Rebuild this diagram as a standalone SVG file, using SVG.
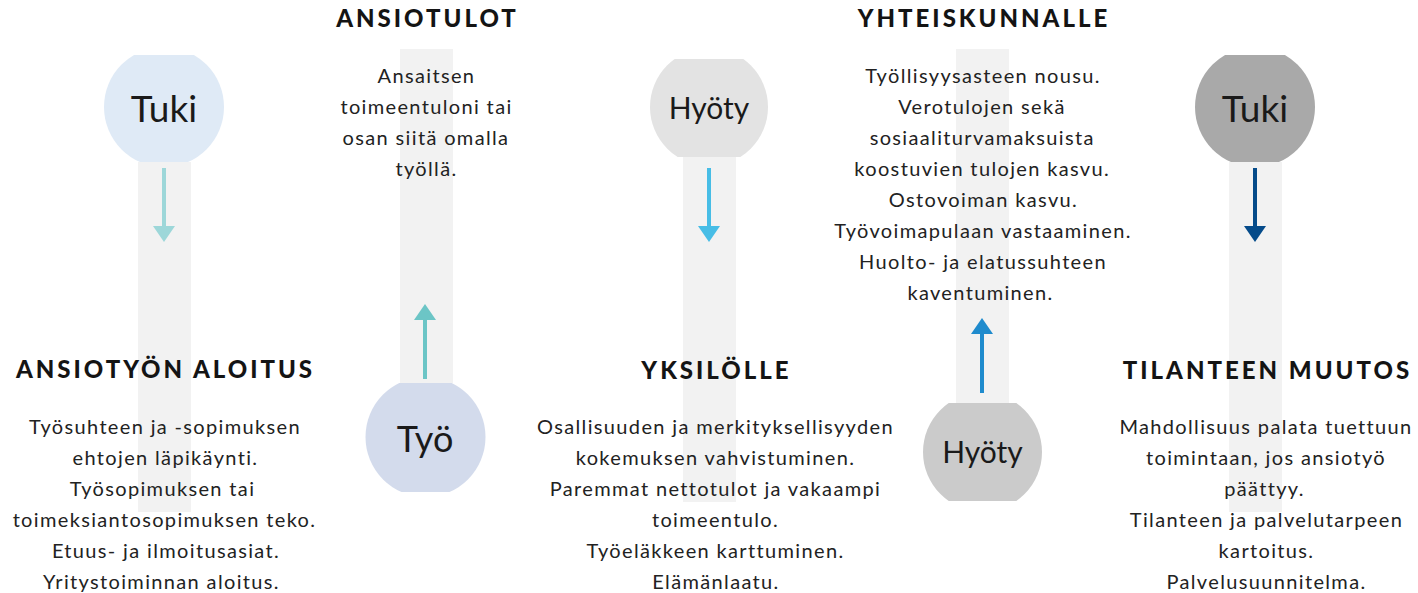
<svg xmlns="http://www.w3.org/2000/svg" width="1418" height="593" viewBox="0 0 1418 593">
<style>
.bar{fill:#f2f2f2}
text{font-variant-ligatures:none}
.lbl{font-family:Lato,"Liberation Sans",sans-serif;fill:#1a1a1a;text-anchor:middle}
.h{font-family:Lato,"Liberation Sans",sans-serif;font-weight:900;font-size:24px;letter-spacing:3px;fill:#141414;text-anchor:middle}
.b{font-family:Lato,"Liberation Sans",sans-serif;font-size:20px;letter-spacing:1.35px;fill:#222;text-anchor:middle}
.arr{stroke-width:4;fill:none}
</style>
<defs>
<clipPath id="c1"><rect x="100" y="55" width="130" height="107"/></clipPath>
<clipPath id="c2"><rect x="360" y="383" width="130" height="109"/></clipPath>
<clipPath id="c3"><rect x="645" y="59" width="130" height="98"/></clipPath>
<clipPath id="c4"><rect x="918" y="403" width="130" height="98"/></clipPath>
<clipPath id="c5"><rect x="1190" y="55" width="130" height="107"/></clipPath>
<marker id="m1" viewBox="0 0 16 22" markerWidth="16" markerHeight="22" refX="0" refY="11" orient="auto" markerUnits="userSpaceOnUse"><path d="M0,0L16,11L0,22z" fill="#9dd7d9"/></marker>
<marker id="m2" viewBox="0 0 16 22" markerWidth="16" markerHeight="22" refX="0" refY="11" orient="auto" markerUnits="userSpaceOnUse"><path d="M0,0L16,11L0,22z" fill="#6cc5c6"/></marker>
<marker id="m3" viewBox="0 0 16 22" markerWidth="16" markerHeight="22" refX="0" refY="11" orient="auto" markerUnits="userSpaceOnUse"><path d="M0,0L16,11L0,22z" fill="#47bde6"/></marker>
<marker id="m4" viewBox="0 0 16 22" markerWidth="16" markerHeight="22" refX="0" refY="11" orient="auto" markerUnits="userSpaceOnUse"><path d="M0,0L16,11L0,22z" fill="#1f8bcd"/></marker>
<marker id="m5" viewBox="0 0 16 22" markerWidth="16" markerHeight="22" refX="0" refY="11" orient="auto" markerUnits="userSpaceOnUse"><path d="M0,0L16,11L0,22z" fill="#054b8a"/></marker>
</defs>
<rect width="1418" height="593" fill="#ffffff"/>

<g id="bars">
<rect class="bar" x="138" y="162" width="53" height="350"/>
<rect class="bar" x="400" y="49" width="53" height="334"/>
<rect class="bar" x="683" y="157" width="53" height="345"/>
<rect class="bar" x="956" y="49" width="53" height="354"/>
<rect class="bar" x="1229" y="162" width="53" height="350"/>
</g>

<g id="node-tuki-1">
<circle cx="164" cy="107" r="60" fill="#dfeaf6" clip-path="url(#c1)"/>
<text class="lbl" x="164" y="122" font-size="37">Tuki</text>
</g>
<g id="node-tyo">
<circle cx="425.5" cy="437" r="60" fill="#d3dbec" clip-path="url(#c2)"/>
<text class="lbl" x="425" y="452" font-size="36">Työ</text>
</g>
<g id="node-hyoty-1">
<circle cx="709" cy="107" r="59" fill="#e3e3e3" clip-path="url(#c3)"/>
<text class="lbl" x="709" y="119" font-size="30">Hyöty</text>
</g>
<g id="node-hyoty-2">
<circle cx="982.5" cy="452" r="59.5" fill="#cbcbcb" clip-path="url(#c4)"/>
<text class="lbl" x="982.5" y="463" font-size="30">Hyöty</text>
</g>
<g id="node-tuki-2">
<circle cx="1255" cy="107" r="60" fill="#a9a9a9" clip-path="url(#c5)"/>
<text class="lbl" x="1255" y="122" font-size="37">Tuki</text>
</g>

<g id="node-ansiotyon-aloitus">
<text class="h" x="165.5" y="378">ANSIOTYÖN ALOITUS</text>
<text class="b" x="165" y="434">Työsuhteen ja -sopimuksen</text>
<text class="b" x="165.5" y="465">ehtojen läpikäynti.</text>
<text class="b" x="162.5" y="496">Työsopimuksen tai</text>
<text class="b" x="164.5" y="527">toimeksiantosopimuksen teko.</text>
<text class="b" x="166" y="558">Etuus- ja ilmoitusasiat.</text>
<text class="b" x="161.5" y="589">Yritystoiminnan aloitus.</text>
</g>

<g id="node-ansiotulot">
<text class="h" x="427.5" y="27">ANSIOTULOT</text>
<text class="b" x="426.5" y="83">Ansaitsen</text>
<text class="b" x="426.5" y="114">toimeentuloni tai</text>
<text class="b" x="426" y="145">osan siitä omalla</text>
<text class="b" x="426.5" y="176">työllä.</text>
</g>

<g id="node-yksilolle">
<text class="h" x="716.5" y="379">YKSILÖLLE</text>
<text class="b" x="715.5" y="434">Osallisuuden ja merkityksellisyyden</text>
<text class="b" x="715.5" y="465">kokemuksen vahvistuminen.</text>
<text class="b" x="715.5" y="496">Paremmat nettotulot ja vakaampi</text>
<text class="b" x="715.5" y="527">toimeentulo.</text>
<text class="b" x="715.5" y="558">Työeläkkeen karttuminen.</text>
<text class="b" x="716" y="589">Elämänlaatu.</text>
</g>

<g id="node-yhteiskunnalle">
<text class="h" x="984" y="27">YHTEISKUNNALLE</text>
<text class="b" x="983" y="83">Työllisyysasteen nousu.</text>
<text class="b" x="982" y="114">Verotulojen sekä</text>
<text class="b" x="982.2" y="145">sosiaaliturvamaksuista</text>
<text class="b" x="982.2" y="176">koostuvien tulojen kasvu.</text>
<text class="b" x="983.5" y="207">Ostovoiman kasvu.</text>
<text class="b" x="983" y="238">Työvoimapulaan vastaaminen.</text>
<text class="b" x="983" y="269">Huolto- ja elatussuhteen</text>
<text class="b" x="980.5" y="300">kaventuminen.</text>
</g>

<g id="node-tilanteen-muutos">
<text class="h" x="1267.5" y="379">TILANTEEN MUUTOS</text>
<text class="b" x="1266" y="434">Mahdollisuus palata tuettuun</text>
<text class="b" x="1266" y="465">toimintaan, jos ansiotyö</text>
<text class="b" x="1264.5" y="496">päättyy.</text>
<text class="b" x="1266.5" y="527">Tilanteen ja palvelutarpeen</text>
<text class="b" x="1266.5" y="558">kartoitus.</text>
<text class="b" x="1266.5" y="589">Palvelusuunnitelma.</text>
</g>

<g id="connectors">
<line class="arr" x1="164" y1="168" x2="164" y2="226" stroke="#9dd7d9" marker-end="url(#m1)"/>
<line class="arr" x1="425" y1="379" x2="425" y2="320" stroke="#6cc5c6" marker-end="url(#m2)"/>
<line class="arr" x1="709" y1="168" x2="709" y2="226" stroke="#47bde6" marker-end="url(#m3)"/>
<line class="arr" x1="982" y1="393" x2="982" y2="334" stroke="#1f8bcd" marker-end="url(#m4)"/>
<line class="arr" x1="1255" y1="168" x2="1255" y2="226" stroke="#054b8a" marker-end="url(#m5)"/>
</g>
</svg>
